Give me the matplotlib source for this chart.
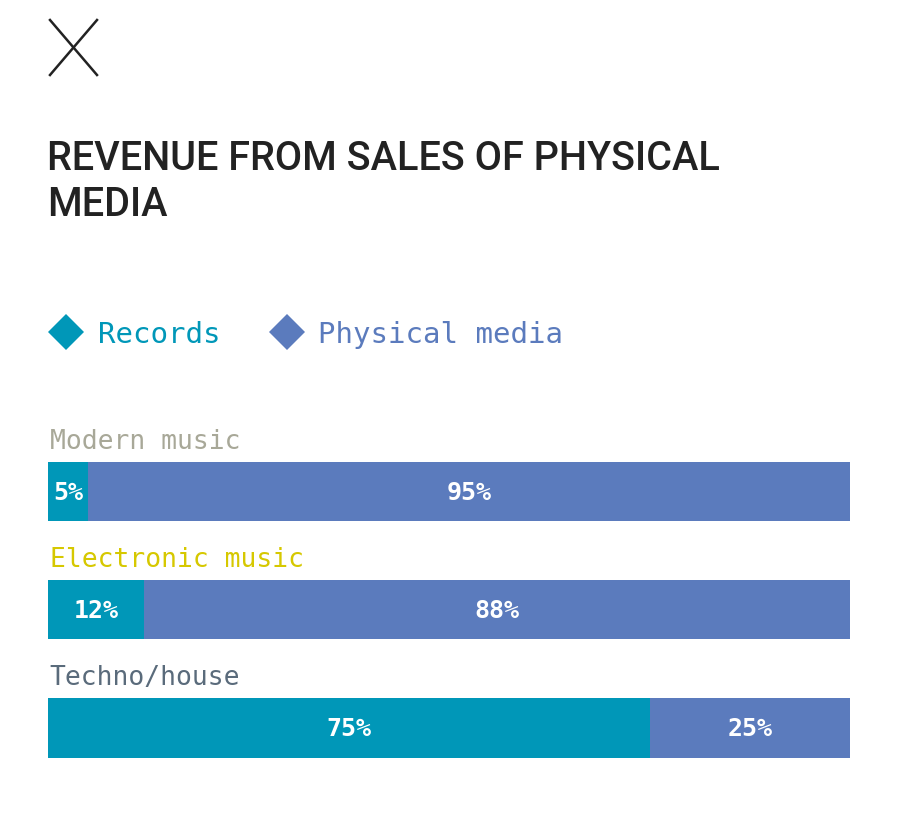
import matplotlib
matplotlib.use("Agg")
import matplotlib.pyplot as plt
from matplotlib.patches import Polygon

# data
categories = ["Modern music", "Electronic music", "Techno/house"]
records = [5, 12, 75]
physical = [95, 88, 25]
series_names = ["Records", "Physical media"]
title = "REVENUE FROM SALES OF PHYSICAL\nMEDIA"

c_records = "#0097b8"
c_physical = "#5b7bbd"
cat_colors = ["#a8a898", "#d6c800", "#5a6b7b"]
pix_font = "DejaVu Sans Mono"

W, H = 898, 824
fig = plt.figure(figsize=(W / 100, H / 100), dpi=100)
fig.patch.set_facecolor("white")

# overlay in pixel coords for the decorations
ax0 = fig.add_axes([0, 0, 1, 1])
ax0.set_xlim(0, W)
ax0.set_ylim(H, 0)
ax0.axis("off")

# close icon
ax0.plot([50, 97], [20, 75], color="#222222", lw=1.8)
ax0.plot([97, 50], [20, 75], color="#222222", lw=1.8)

lines = title.split("\n")
ax0.text(47, 170, lines[0], fontsize=28.5, family="Roboto", fontweight="medium",
         color="#222222", va="baseline")
ax0.text(47, 216, lines[1], fontsize=28.5, family="Roboto", fontweight="medium",
         color="#222222", va="baseline")

# legend
leg_x = [66, 287]
txt_x = [98, 318]
for cx, tx, name, col in zip(leg_x, txt_x, series_names, [c_records, c_physical]):
    ax0.add_patch(Polygon([[cx - 18, 332], [cx, 314], [cx + 18, 332], [cx, 350]],
                          closed=True, color=col, lw=0))
    ax0.text(tx, 343, name, fontsize=21, family=pix_font, color=col, va="baseline")

# bars
ax = fig.add_axes([48 / W, (H - 757.5) / H, 802 / W, 295.5 / H])
ax.set_xlim(0, 100)
ax.set_ylim(2.25, -0.25)
ax.axis("off")

ypos = list(range(len(categories)))
ax.barh(ypos, records, height=0.5, color=c_records, edgecolor="none")
ax.barh(ypos, physical, left=records, height=0.5, color=c_physical, edgecolor="none")

for i, cat in enumerate(categories):
    ax.text(0.2, i - 0.25 - 0.11, cat, fontsize=19, family=pix_font,
            color=cat_colors[i], va="baseline", ha="left", clip_on=False)
    ax.text(records[i] / 2, i + 0.01, f"{records[i]}%", fontsize=18, family=pix_font,
            fontweight="bold", color="white", ha="center", va="center")
    ax.text(records[i] + physical[i] / 2, i + 0.01, f"{physical[i]}%", fontsize=18,
            family=pix_font, fontweight="bold", color="white", ha="center", va="center")

fig.savefig("out.png", dpi=100, facecolor="white")
